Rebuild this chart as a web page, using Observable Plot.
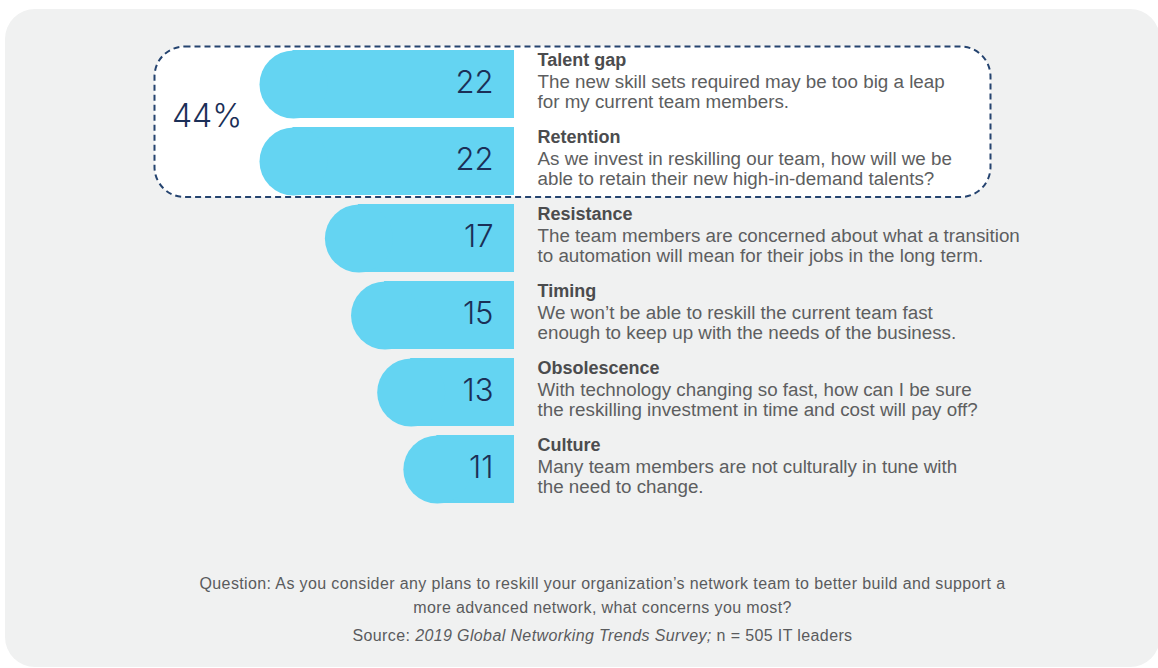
<!DOCTYPE html>
<html><head><meta charset="utf-8">
<script src="https://cdn.jsdelivr.net/npm/d3@7"></script>
<script src="https://cdn.jsdelivr.net/npm/@observablehq/plot@0.6"></script>
<style>
html,body{margin:0;padding:0;background:#fff;width:1158px;height:668px;overflow:hidden;}
#panel{position:absolute;left:5px;top:9px;width:1155px;height:658px;border-radius:30px;background:#f0f1f1;}
#chart{position:absolute;left:0;top:0;}
.cap{position:absolute;left:0;width:1205px;text-align:center;font-family:"Liberation Sans",Arial,sans-serif;font-size:16px;letter-spacing:0.38px;line-height:16px;color:#5a5b5d;white-space:nowrap;}
</style></head>
<body>
<div id="panel"></div>
<div id="chart"></div>
<div class="cap" style="top:576px">Question: As you consider any plans to reskill your organization’s network team to better build and support a</div>
<div class="cap" style="top:600px">more advanced network, what concerns you most?</div>
<div class="cap" style="top:628px">Source: <i>2019 Global Networking Trends Survey;</i> n = 505 IT leaders</div>
<script>
const categories = ["Talent gap", "Retention", "Resistance", "Timing", "Obsolescence", "Culture"];
const values = [22, 22, 17, 15, 13, 11];
const descriptions = [
  "The new skill sets required may be too big a leap\nfor my current team members.",
  "As we invest in reskilling our team, how will we be\nable to retain their new high-in-demand talents?",
  "The team members are concerned about what a transition\nto automation will mean for their jobs in the long term.",
  "We won’t be able to reskill the current team fast\nenough to keep up with the needs of the business.",
  "With technology changing so fast, how can I be sure\nthe reskilling investment in time and cost will pay off?",
  "Many team members are not culturally in tune with\nthe need to change."
];
const highlighted = ["Talent gap", "Retention"];

const data = categories.map((c, i) => ({category: c, value: values[i], description: descriptions[i]}));
const groupTotal = d3.sum(data.filter(d => highlighted.includes(d.category)), d => d.value);

const BAR = "#64d4f2";
const NAVY = "#1b2f57";
const R = 34;
const base = 2.5;

function groupBox(index, scales) {
  const y = scales.y;
  const bw = y.bandwidth ? y.bandwidth() : 68;
  const top = y(highlighted[0]) - 3.5;
  const bottom = y(highlighted[highlighted.length - 1]) + bw + 2;
  const g = d3.create("svg:g");
  g.append("rect")
    .attr("x", 154.5).attr("y", top)
    .attr("width", 836).attr("height", bottom - top)
    .attr("rx", 30).attr("ry", 30)
    .attr("fill", "#ffffff")
    .attr("stroke", "#24436f").attr("stroke-width", 2)
    .attr("stroke-dasharray", "6,4");
  g.append("text")
    .attr("x", 207).attr("y", (top + bottom) / 2 + 5.5)
    .attr("text-anchor", "middle")
    .attr("font-family", "Inter, 'Liberation Sans', sans-serif")
    .attr("font-weight", 300)
    .attr("font-size", 32)
    .attr("fill", NAVY)
    .text(groupTotal + "%");
  return g.node();
}

const plot = Plot.plot({
  width: 1158,
  height: 520,
  margin: 0,
  style: {background: "transparent", overflow: "visible"},
  x: {domain: [base, 22], range: [514, 259], axis: null},
  y: {domain: categories, range: [49, 503], paddingInner: 0.12, paddingOuter: 0, axis: null},
  marks: [
    groupBox,
    Plot.barX(data, {x1: base, x2: "value", y: "category", fill: BAR, insetLeft: R - 0.5}),
    Plot.dot(data, {x: "value", y: "category", r: R, dx: R, fill: BAR, stroke: null}),
    Plot.text(data, {
      x: base, y: "category", text: d => String(d.value),
      textAnchor: "end", dx: -21, dy: -1,
      fontFamily: "Inter, 'Liberation Sans', sans-serif", fontWeight: 300, fontSize: 31, fill: NAVY
    }),
    Plot.text(data, {
      x: base, y: "category", text: "category",
      textAnchor: "start", dx: 23, dy: -24, lineAnchor: "middle",
      fontFamily: "'Liberation Sans', Arial, sans-serif", fontWeight: "bold", fontSize: 18, fill: "#4b4c4e"
    }),
    Plot.text(data, {
      x: base, y: "category", text: "description",
      textAnchor: "start", dx: 23, dy: -11, lineAnchor: "top", lineHeight: 20 / 18.8,
      fontFamily: "'Liberation Sans', Arial, sans-serif", fontSize: 18.8, fill: "#5d5e60"
    })
  ]
});
document.getElementById("chart").appendChild(plot);
</script>
</body></html>
